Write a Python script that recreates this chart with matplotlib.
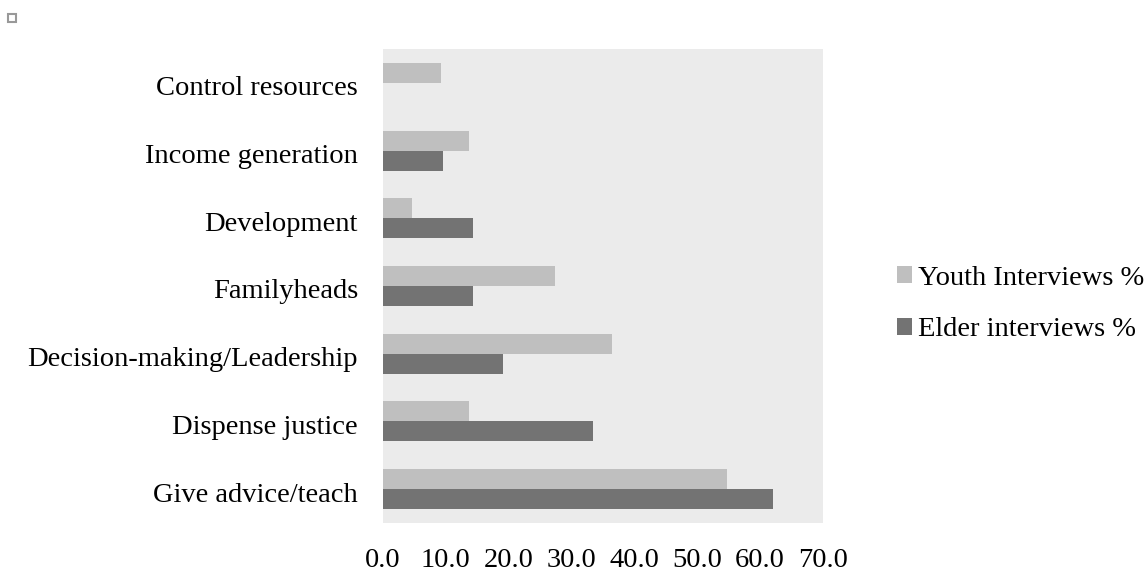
import numpy as np
import matplotlib.pyplot as plt
import matplotlib.transforms as mtransforms
from matplotlib.patches import Rectangle

# roles of elders, bottom to top
categories = ['Give advice/teach', 'Dispense justice', 'Decision-making/Leadership',
              'Familyheads', 'Development', 'Income generation', 'Control resources']
youth = [54.7, 13.7, 36.4, 27.4, 4.6, 13.7, 9.2]
elder = [62.0, 33.4, 19.1, 14.3, 14.3, 9.5, 0.0]
xticks = [0, 10, 20, 30, 40, 50, 60, 70]

plt.rcParams['font.family'] = ['Liberation Serif', 'DejaVu Serif']
fs = 20.5

fig = plt.figure(figsize=(11.47, 5.72), dpi=100)
ax = fig.add_axes([0.3339, 0.0857, 0.3836, 0.8287])
ax.set_facecolor('#ebebeb')

y = np.arange(len(categories))
h = 0.295
ax.barh(y + h / 2, youth, height=h, color='#bfbfbf', label='Youth Interviews %')
ax.barh(y - h / 2, elder, height=h, color='#737373', label='Elder interviews %')

ax.set_xlim(0, 70)
ax.set_ylim(-0.5, len(categories) - 0.5)
ax.set_xticks(xticks)
ax.set_xticklabels([f'{v:.1f}' for v in xticks], fontsize=fs)
ax.set_yticks(y)
ax.set_yticklabels(categories, fontsize=fs)
ax.tick_params(axis='x', length=0, pad=18)
ax.tick_params(axis='y', length=0, pad=18)
for s in ax.spines.values():
    s.set_visible(False)

# nudge category labels down a little
shift = mtransforms.ScaledTranslation(0, -3 / 100, fig.dpi_scale_trans)
for lab in ax.get_yticklabels():
    lab.set_transform(lab.get_transform() + shift)

handles, labels = ax.get_legend_handles_labels()
fig.legend(handles, labels, loc='center left', bbox_to_anchor=(0.782, 0.4685),
           frameon=False, fontsize=fs, handlelength=0.53, handleheight=0.53,
           handletextpad=0.2, labelspacing=0.93, borderaxespad=0, borderpad=0)

# small anchor box in the page corner
fig.patches.append(Rectangle((8 / 1147, 1 - 22 / 572), 8 / 1147, 8 / 572,
                             transform=fig.transFigure, fill=False,
                             edgecolor='#999999', linewidth=1.5))

fig.savefig('out.png', dpi=100)
